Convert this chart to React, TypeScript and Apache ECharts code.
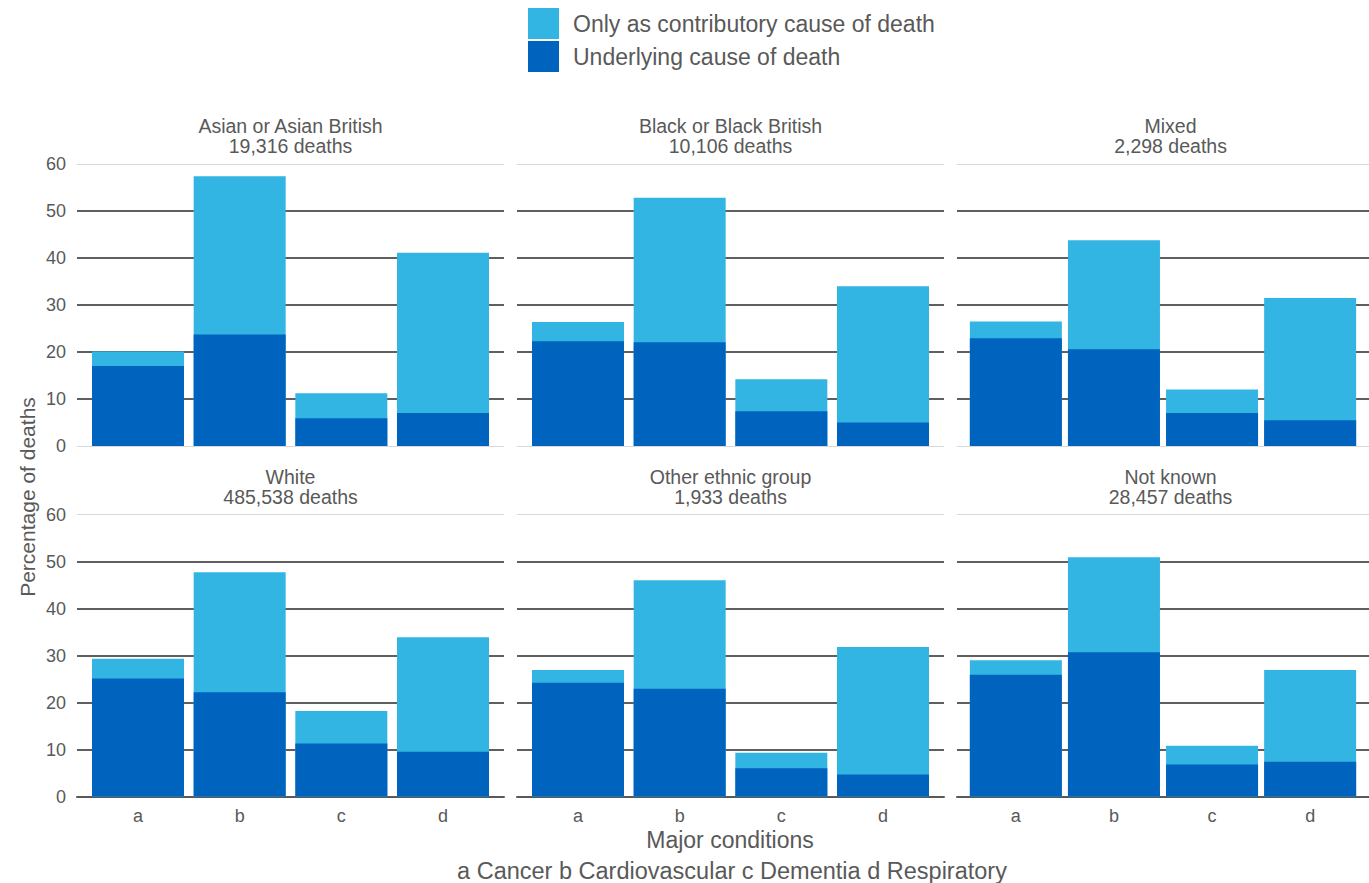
import React, { useEffect, useRef } from "react";
import * as echarts from "echarts";

const categories = ["a", "b", "c", "d"];
const panelNames = [
  "Asian or Asian British",
  "Black or Black British",
  "Mixed",
  "White",
  "Other ethnic group",
  "Not known",
];
const deathCounts = ["19,316", "10,106", "2,298", "485,538", "1,933", "28,457"];
const underlying = [
  [17.0, 23.7, 5.9, 7.0],
  [22.3, 22.1, 7.4, 5.0],
  [22.9, 20.6, 7.0, 5.5],
  [25.1, 22.2, 11.3, 9.5],
  [24.2, 22.9, 6.0, 4.7],
  [25.9, 30.7, 6.8, 7.4],
];
const contributoryOnly = [
  [3.1, 33.7, 5.3, 34.1],
  [4.1, 30.7, 6.8, 29.0],
  [3.6, 23.2, 5.0, 26.0],
  [4.2, 25.5, 6.9, 24.4],
  [2.7, 23.1, 3.3, 27.1],
  [3.1, 20.2, 4.0, 19.5],
];
const yTicks = [0, 10, 20, 30, 40, 50, 60];
const legendNames = ["Only as contributory cause of death", "Underlying cause of death"];

const FONT = '"Liberation Sans", Arial, sans-serif';
const TEXT = "#595959";
const LIGHT = "#33b5e3";
const DARK = "#0063bd";

export default function App() {
  const ref = useRef<HTMLDivElement>(null);
  useEffect(() => {
    if (!ref.current) return;
    const chart = echarts.init(ref.current, null, { renderer: "svg" });
    const lefts = [77, 517, 957];
    const tops = [164, 514.5];
    const W = 427;
    const H = 282;
    const grids: any[] = [];
    const xAxes: any[] = [];
    const yAxes: any[] = [];
    const series: any[] = [];
    const graphics: any[] = [];
    for (let i = 0; i < 6; i++) {
      const row = Math.floor(i / 3);
      const col = i % 3;
      grids.push({ left: lefts[col], top: tops[row], width: W, height: H, containLabel: false });
      xAxes.push({
        gridIndex: i,
        type: "value",
        min: 0.4,
        max: 4.6,
        axisLine: { show: row === 1, onZero: false, lineStyle: { color: "#595959", width: 2 } },
        axisTick: { show: false },
        splitLine: { show: false },
        axisLabel: {
          show: row === 1,
          customValues: [1, 2, 3, 4],
          formatter: (v: number) => categories[Math.round(v) - 1] ?? "",
          color: TEXT,
          fontFamily: FONT,
          fontSize: 18,
          margin: 10,
        },
      });
      const mainIdx = yAxes.length;
      yAxes.push({
        gridIndex: i,
        type: "value",
        min: yTicks[0],
        max: yTicks[yTicks.length - 1],
        interval: 10,
        position: "left",
        axisLine: { show: false },
        axisTick: { show: false },
        axisLabel: { show: col === 0, color: TEXT, fontFamily: FONT, fontSize: 18, margin: 11 },
        splitLine: {
          show: true,
          lineStyle: {
            color: ["rgba(0,0,0,0)", "#5f5f5f", "#5f5f5f", "#5f5f5f", "#5f5f5f", "#5f5f5f"],
            width: 2,
          },
        },
      });
      yAxes.push({
        gridIndex: i,
        type: "value",
        min: 0,
        max: 60,
        interval: 60,
        position: "right",
        axisLine: { show: false },
        axisTick: { show: false },
        axisLabel: { show: false },
        splitLine: { show: true, lineStyle: { color: "#d9d9d9", width: 1 } },
      });
      // contributory drawn as full bar height (underlying + contributory), underlying drawn over it
      series.push({
        type: "bar",
        name: legendNames[0],
        xAxisIndex: i,
        yAxisIndex: mainIdx,
        barWidth: 92,
        barGap: "-100%",
        itemStyle: { color: LIGHT },
        data: contributoryOnly[i].map((v, k) => [k + 1, +(v + underlying[i][k]).toFixed(2)]),
      });
      series.push({
        type: "bar",
        name: legendNames[1],
        xAxisIndex: i,
        yAxisIndex: mainIdx,
        barWidth: 92,
        barGap: "-100%",
        itemStyle: { color: DARK },
        data: underlying[i].map((v, k) => [k + 1, v]),
      });
      graphics.push({
        type: "text",
        x: lefts[col] + W / 2,
        y: row === 0 ? 116 : 467,
        style: {
          text: `${panelNames[i]}\n${deathCounts[i]} deaths`,
          fill: TEXT,
          font: `19.5px ${FONT}`,
          fontSize: 19.5,
          fontFamily: FONT,
          lineHeight: 20,
          align: "center",
          textAlign: "center",
          verticalAlign: "top",
          textVerticalAlign: "top",
        },
      });
    }
    graphics.push({
      type: "text",
      x: 27,
      y: 497,
      rotation: Math.PI / 2,
      style: {
        text: "Percentage of deaths",
        fill: TEXT,
        font: `21px ${FONT}`,
        fontSize: 21,
        fontFamily: FONT,
        align: "center",
        textAlign: "center",
        verticalAlign: "middle",
        textVerticalAlign: "middle",
      },
    });
    graphics.push({
      type: "text",
      x: 730,
      y: 840,
      style: {
        text: "Major conditions",
        fill: TEXT,
        font: `23px ${FONT}`,
        fontSize: 23,
        fontFamily: FONT,
        align: "center",
        textAlign: "center",
        verticalAlign: "middle",
        textVerticalAlign: "middle",
      },
    });
    graphics.push({
      type: "text",
      x: 732,
      y: 871,
      style: {
        text: "a Cancer b Cardiovascular c Dementia d Respiratory",
        fill: TEXT,
        font: `23.5px ${FONT}`,
        fontSize: 23.5,
        fontFamily: FONT,
        align: "center",
        textAlign: "center",
        verticalAlign: "middle",
        textVerticalAlign: "middle",
      },
    });

    chart.setOption({
      animation: false,
      backgroundColor: "#ffffff",
      legend: {
        data: legendNames,
        orient: "vertical",
        left: 528,
        top: 8,
        padding: 0,
        itemWidth: 31,
        itemHeight: 31,
        itemGap: 2,
        icon: "rect",
        selectedMode: false,
        textStyle: { color: TEXT, fontFamily: FONT, fontSize: 23, padding: [0, 0, 0, 9] },
      },
      grid: grids,
      xAxis: xAxes,
      yAxis: yAxes,
      series,
      graphic: graphics,
    });
    return () => chart.dispose();
  }, []);
  return (
    <div
      ref={ref}
      style={{ position: "absolute", left: 0, top: 0, width: 1369, height: 883 }}
    />
  );
}
